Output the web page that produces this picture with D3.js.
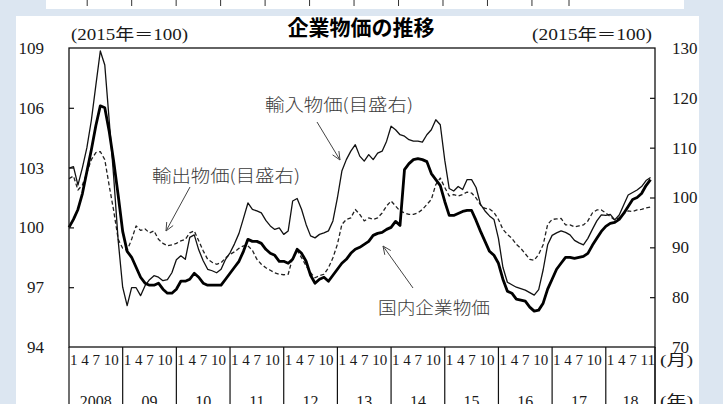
<!DOCTYPE html>
<html>
<head>
<meta charset="utf-8">
<script src="https://cdn.jsdelivr.net/npm/d3@7"></script>
<style>
  html, body { margin: 0; padding: 0; background: #dce6f1; }
  svg { display: block; }
</style>
</head>
<body>
<svg id="chart" width="723" height="404"></svg>
<script>
// 企業物価指数（2015年＝100）、2008年1月〜2018年11月の月次
const years = ["2008", "09", "10", "11", "12", "13", "14", "15", "16", "17", "18"];
const monthsInYear = [12, 12, 12, 12, 12, 12, 12, 12, 12, 12, 11];
const monthTicks = ["1 4 7 10", "1 4 7 10", "1 4 7 10", "1 4 7 10", "1 4 7 10", "1 4 7 10",
                    "1 4 7 10", "1 4 7 10", "1 4 7 10", "1 4 7 10", "1 4 7 11"];
const leftTicks = [94, 97, 100, 103, 106, 109];
const rightTicks = [70, 80, 90, 100, 110, 120, 130];
// tick positions of the panel above (its own month index)
const upperTicks = [0, 12, 24, 36, 48, 60, 72, 84, 96, 108, 120, 130];

// 国内企業物価（目盛左）
const domestic = [
  100.0, 100.4, 100.9, 101.7, 102.8, 103.9, 105.1, 106.1, 106.0, 104.8, 103.3, 101.6,
  99.8, 98.8, 98.5, 98.0, 97.5, 97.2, 97.1, 97.1, 97.2, 96.9, 96.7, 96.7,
  96.9, 97.3, 97.3, 97.4, 97.7, 97.5, 97.2, 97.1, 97.1, 97.1, 97.1, 97.4,
  97.7, 98.0, 98.3, 98.8, 99.4, 99.3, 99.3, 99.2, 98.9, 98.7, 98.6, 98.3,
  98.3, 98.2, 98.4, 98.9, 98.7, 98.3, 97.6, 97.2, 97.4, 97.5, 97.3, 97.6,
  97.9, 98.2, 98.4, 98.7, 98.9, 99.0, 99.15, 99.3, 99.6, 99.7, 99.75, 99.9,
  100.0, 100.3, 100.1, 102.9, 103.2, 103.4, 103.45, 103.4, 103.3, 102.7, 102.4, 102.1,
  101.3, 100.6, 100.6, 100.7, 100.8, 100.85, 100.85, 100.35, 99.8, 99.3, 98.8, 98.6,
  98.2, 97.4, 96.8, 96.7, 96.4, 96.35, 96.3, 96.0, 95.8, 95.85, 96.2, 96.9,
  97.4, 97.9, 98.2, 98.5, 98.5, 98.45, 98.5, 98.55, 98.7, 99.1, 99.45, 99.8,
  100.05, 100.2, 100.25, 100.4, 100.7, 101.05, 101.4, 101.5, 101.7, 102.1, 102.4
];

// 輸入物価（目盛右）
const importPrice = [
  105.9, 106.2, 102.5, 106.0, 110.0, 115.5, 122.5, 129.4, 126.6, 115.3, 104.0, 91.3,
  82.0, 78.3, 81.9, 81.9, 80.3, 82.3, 83.5, 84.3, 84.0, 83.3, 83.5, 84.9,
  87.5, 88.3, 87.6, 92.0, 92.5, 89.5, 87.3, 85.6, 85.3, 84.9, 85.6, 87.6,
  88.9, 90.7, 92.8, 95.8, 98.9, 97.6, 97.3, 96.9, 95.4, 94.3, 93.6, 93.9,
  92.6, 93.3, 99.3, 99.8, 97.6, 94.6, 92.3, 91.9, 92.6, 92.9, 93.3, 95.3,
  99.9, 105.3, 107.6, 109.3, 110.6, 108.3, 107.3, 108.6, 107.6, 108.9, 109.3, 111.3,
  114.3, 113.6, 112.6, 112.3, 111.6, 111.3, 111.3, 111.1, 112.6, 113.6, 115.6, 114.6,
  107.5, 101.8, 101.3, 102.2, 101.6, 103.6, 103.6, 102.0, 98.6, 97.3, 96.3, 95.6,
  91.8, 86.0, 83.0, 82.5, 82.0, 81.7, 81.4, 80.9, 80.4, 81.5, 85.5, 90.5,
  92.4, 92.9, 93.3, 93.0, 92.5, 91.4, 90.9, 90.5, 91.8, 93.6, 95.3, 96.5,
  96.4, 96.6, 95.5, 96.5, 98.5, 100.5, 101.0, 101.5, 102.2, 103.4, 104.0
];

// 輸出物価（目盛右）
const exportPrice = [
  103.8, 104.3, 101.5, 102.5, 105.0, 107.6, 109.0, 109.2, 107.6, 102.3, 97.3, 91.6,
  89.8, 89.4, 91.6, 94.3, 93.4, 93.7, 92.9, 93.3, 91.6, 90.8, 90.3, 90.5,
  90.8, 91.3, 91.6, 92.9, 93.3, 91.3, 89.3, 87.6, 87.0, 86.6, 86.9, 87.9,
  88.6, 89.1, 89.8, 90.3, 90.3, 89.4, 87.6, 86.6, 85.9, 85.4, 84.9, 84.6,
  84.5, 84.6, 87.9, 89.4, 87.9, 86.3, 84.9, 83.9, 84.3, 84.6, 85.9, 87.9,
  90.6, 94.6, 95.6, 95.9, 97.6, 96.6, 95.3, 95.9, 95.6, 95.9, 96.9, 98.3,
  99.3, 98.3, 97.3, 96.9, 96.6, 96.6, 96.9, 97.6, 98.6, 99.6, 102.6, 103.9,
  102.0, 100.3, 100.6, 100.3, 100.6, 101.1, 100.9, 99.9, 98.5, 97.8, 97.7, 97.0,
  95.6, 93.6, 92.6, 91.8, 90.6, 89.8, 88.7, 87.6, 87.4, 88.6, 90.5, 94.6,
  95.6, 95.7, 95.8, 94.5, 94.5, 94.1, 94.3, 94.5, 95.3, 96.9, 97.5, 97.5,
  96.9, 96.2, 95.5, 95.9, 96.8, 97.3, 97.2, 97.5, 97.6, 97.9, 98.1
];

const svg = d3.select("#chart");
const serif = "'Liberation Serif', 'Times New Roman', 'Noto Sans CJK JP', serif";
const gothic = "'Noto Sans CJK JP', 'Noto Sans', sans-serif";
const ink = "#1a1a1a";

// backdrop
svg.append("rect").attr("width", 723).attr("height", 404).attr("fill", "#dce6f1");

// bottom edge of the panel above
const upper = svg.append("g");
upper.append("rect").attr("x", 46).attr("y", -2).attr("width", 638).attr("height", 11).attr("fill", "#ffffff");
const upperX = d3.scaleLinear().domain([0, 130]).range([86.7, 568.5]);
upper.append("g")
  .call(d3.axisBottom(upperX).tickValues(upperTicks).tickSize(6).tickFormat(""))
  .call(g => g.select(".domain").remove())
  .call(g => g.selectAll("line").attr("stroke", "#333").attr("stroke-width", 1));

// white panel
svg.append("rect").attr("x", 16).attr("y", 16).attr("width", 683).attr("height", 400).attr("fill", "#ffffff");

// scales
const nMonths = d3.sum(monthsInYear);
const x = d3.scaleLinear().domain([0, nMonths]).range([69, 655]);
const yL = d3.scaleLinear().domain([94, 109]).range([347, 48]);
const yR = d3.scaleLinear().domain([70, 130]).range([347, 48]);
const plotTop = yL.range()[1], plotBottom = yL.range()[0];
const plotLeft = x.range()[0], plotRight = x.range()[1];

// title and unit notes
svg.append("text")
  .attr("x", 361).attr("y", 35)
  .attr("text-anchor", "middle")
  .attr("font-family", gothic).attr("font-weight", 700).attr("font-size", 21)
  .attr("fill", "#000")
  .text("企業物価の推移");
svg.append("text")
  .attr("x", 71).attr("y", 40)
  .attr("font-family", serif).attr("font-size", 16).attr("fill", ink)
  .attr("textLength", 117).attr("lengthAdjust", "spacingAndGlyphs")
  .text("(2015年＝100)");
svg.append("text")
  .attr("x", 532).attr("y", 40)
  .attr("font-family", serif).attr("font-size", 16).attr("fill", ink)
  .attr("textLength", 120).attr("lengthAdjust", "spacingAndGlyphs")
  .text("(2015年＝100)");

// left axis: labels outside, short ticks inside
svg.append("g")
  .attr("transform", `translate(${plotLeft},0)`)
  .call(d3.axisLeft(yL).tickValues(leftTicks).tickSize(0).tickPadding(25).tickFormat(d3.format("d")))
  .call(g => g.select(".domain").remove())
  .call(g => g.selectAll("text").attr("font-family", serif).attr("font-size", 17).attr("fill", ink));
svg.append("g")
  .attr("transform", `translate(${plotLeft},0)`)
  .call(d3.axisRight(yL).tickValues(leftTicks.slice(1, -1)).tickSize(5).tickFormat(""))
  .call(g => g.select(".domain").remove())
  .call(g => g.selectAll("line").attr("stroke", "#111").attr("stroke-width", 1.2));

// right axis
svg.append("g")
  .attr("transform", `translate(${plotRight},0)`)
  .call(d3.axisRight(yR).tickValues(rightTicks).tickSize(0).tickPadding(17).tickFormat(d3.format("d")))
  .call(g => g.select(".domain").remove())
  .call(g => g.selectAll("text").attr("font-family", serif).attr("font-size", 17).attr("fill", ink));
svg.append("g")
  .attr("transform", `translate(${plotRight},0)`)
  .call(d3.axisLeft(yR).tickValues(rightTicks.slice(1, -1)).tickSize(5).tickFormat(""))
  .call(g => g.select(".domain").remove())
  .call(g => g.selectAll("line").attr("stroke", "#111").attr("stroke-width", 1.2));

// year blocks under the plot
const yearStart = d3.cumsum([0, ...monthsInYear]);
const yearData = years.map((y, k) => ({ year: y, start: yearStart[k], len: monthsInYear[k], ticks: monthTicks[k] }));
const xAxis = svg.append("g");
xAxis.selectAll("line.sep")
  .data(yearStart)
  .join("line")
  .attr("class", "sep")
  .attr("x1", d => x(d)).attr("x2", d => x(d))
  .attr("y1", plotBottom).attr("y2", 410)
  .attr("stroke", "#111").attr("stroke-width", 1.2);
xAxis.selectAll("text.mon")
  .data(yearData)
  .join("text")
  .attr("class", "mon")
  .attr("x", d => x(d.start) + 1)
  .attr("y", 365)
  .attr("font-family", serif).attr("font-size", 15).attr("fill", ink)
  .attr("xml:space", "preserve")
  .text(d => d.ticks);
xAxis.selectAll("text.yr")
  .data(yearData)
  .join("text")
  .attr("class", "yr")
  .attr("x", d => x(d.start + d.len / 2))
  .attr("y", 407)
  .attr("text-anchor", "middle")
  .attr("font-family", serif).attr("font-size", 16).attr("fill", ink)
  .text(d => d.year);
svg.append("text")
  .attr("x", 660).attr("y", 365)
  .attr("font-family", serif).attr("font-size", 15).attr("fill", ink)
  .attr("textLength", 33).attr("lengthAdjust", "spacingAndGlyphs")
  .text("(月)");
svg.append("text")
  .attr("x", 660).attr("y", 406)
  .attr("font-family", serif).attr("font-size", 15).attr("fill", ink)
  .attr("textLength", 33).attr("lengthAdjust", "spacingAndGlyphs")
  .text("(年)");

// series
const lineL = d3.line().x((d, i) => x(i)).y(d => yL(d));
const lineR = d3.line().x((d, i) => x(i)).y(d => yR(d));
const plot = svg.append("g");
plot.append("path").datum(exportPrice).attr("d", lineR)
  .attr("fill", "none").attr("stroke", "#222").attr("stroke-width", 1.3)
  .attr("stroke-dasharray", "4,2.5").attr("stroke-linejoin", "round");
plot.append("path").datum(importPrice).attr("d", lineR)
  .attr("fill", "none").attr("stroke", "#111").attr("stroke-width", 1.3).attr("stroke-linejoin", "round");
plot.append("path").datum(domestic).attr("d", lineL)
  .attr("fill", "none").attr("stroke", "#000").attr("stroke-width", 2.8).attr("stroke-linejoin", "round");

// plot frame
svg.append("rect")
  .attr("x", plotLeft).attr("y", plotTop).attr("width", plotRight - plotLeft).attr("height", plotBottom - plotTop)
  .attr("fill", "none").attr("stroke", "#111").attr("stroke-width", 1.3);
svg.append("line").attr("x1", plotRight).attr("x2", plotRight).attr("y1", plotBottom).attr("y2", 410)
  .attr("stroke", "#111").attr("stroke-width", 1.2);

// callouts
function callout(label, tx, ty, width, from, to) {
  svg.append("text")
    .attr("x", tx).attr("y", ty)
    .attr("font-family", gothic).attr("font-weight", 300).attr("font-size", 17).attr("fill", "#3a3a3a")
    .attr("textLength", width).attr("lengthAdjust", "spacingAndGlyphs")
    .text(label);
  const g = svg.append("g").attr("stroke", "#444").attr("stroke-width", 1).attr("fill", "none");
  g.append("line").attr("x1", from[0]).attr("y1", from[1]).attr("x2", to[0]).attr("y2", to[1]);
  const ang = Math.atan2(to[1] - from[1], to[0] - from[0]);
  const len = 9, spread = 0.42;
  [ang + Math.PI - spread, ang + Math.PI + spread].forEach(a => {
    g.append("line")
      .attr("x1", to[0]).attr("y1", to[1])
      .attr("x2", to[0] + len * Math.cos(a)).attr("y2", to[1] + len * Math.sin(a));
  });
}
callout("輸入物価(目盛右)", 265, 111, 148, [317, 122], [340, 160]);
callout("輸出物価(目盛右)", 152, 182, 148, [190, 187], [166, 231]);
callout("国内企業物価", 378, 314, 112, [413, 288], [383, 246]);
</script>
</body>
</html>
